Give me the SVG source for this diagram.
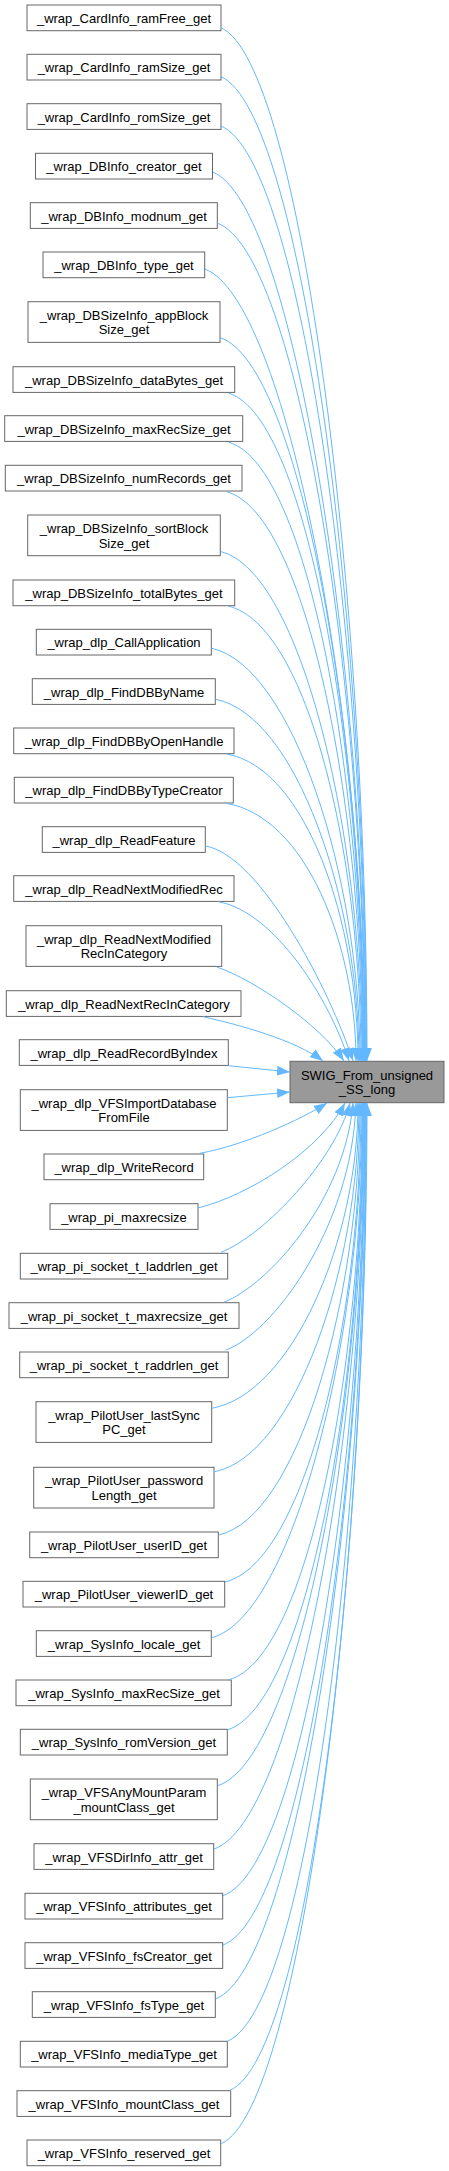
<svg xmlns="http://www.w3.org/2000/svg" width="449" height="2171" viewBox="0 0 449 2171">
<style>
.n rect{fill:#ffffff;stroke:#666666;stroke-width:1}
.t rect{fill:#999999;stroke:#666666;stroke-width:1}
text{font-family:"Liberation Sans",Arial,Helvetica,sans-serif;font-size:13px;fill:#000000;text-anchor:middle}
#edges path{fill:none;stroke:#63b8ff;stroke-width:1;marker-end:url(#ah)}
</style>
<defs>
<marker id="ah" markerUnits="userSpaceOnUse" markerWidth="13" markerHeight="10" viewBox="0 0 12 9" refX="12" refY="4.5" orient="auto">
<path d="M0,0 L12,4.5 L0,9 z" fill="#63b8ff"/>
</marker>
</defs>
<rect x="0" y="0" width="449" height="2171" fill="#ffffff"/>
<g id="nodes">
<g id="n1" class="n"><rect x="27" y="5" width="194" height="25.7"/><text x="124" y="23">_wrap_CardInfo_ramFree_get</text></g>
<g id="n2" class="n"><rect x="27" y="54.3" width="194" height="25.7"/><text x="124" y="72.3">_wrap_CardInfo_ramSize_get</text></g>
<g id="n3" class="n"><rect x="27" y="103.7" width="194" height="25.7"/><text x="124" y="121.7">_wrap_CardInfo_romSize_get</text></g>
<g id="n4" class="n"><rect x="35.5" y="153.3" width="177" height="25.7"/><text x="124" y="171.3">_wrap_DBInfo_creator_get</text></g>
<g id="n5" class="n"><rect x="30.3" y="202.7" width="187" height="25.7"/><text x="124" y="220.7">_wrap_DBInfo_modnum_get</text></g>
<g id="n6" class="n"><rect x="43" y="252" width="161.7" height="25.7"/><text x="124" y="270">_wrap_DBInfo_type_get</text></g>
<g id="n7" class="n"><rect x="28" y="301.7" width="192" height="40.7"/><text x="124" y="319.7">_wrap_DBSizeInfo_appBlock</text><text x="124" y="334.2">Size_get</text></g>
<g id="n8" class="n"><rect x="13" y="366.7" width="221.7" height="25.7"/><text x="124" y="384.7">_wrap_DBSizeInfo_dataBytes_get</text></g>
<g id="n9" class="n"><rect x="4.7" y="415.7" width="238" height="25.7"/><text x="124" y="433.7">_wrap_DBSizeInfo_maxRecSize_get</text></g>
<g id="n10" class="n"><rect x="5.3" y="465.3" width="236.7" height="25.7"/><text x="124" y="483.3">_wrap_DBSizeInfo_numRecords_get</text></g>
<g id="n11" class="n"><rect x="27.7" y="515" width="192.6" height="40.7"/><text x="124" y="533">_wrap_DBSizeInfo_sortBlock</text><text x="124" y="547.5">Size_get</text></g>
<g id="n12" class="n"><rect x="13" y="580" width="221.7" height="25.7"/><text x="124" y="598">_wrap_DBSizeInfo_totalBytes_get</text></g>
<g id="n13" class="n"><rect x="36.3" y="629.3" width="175" height="25.7"/><text x="124" y="647.3">_wrap_dlp_CallApplication</text></g>
<g id="n14" class="n"><rect x="32.3" y="678.7" width="183" height="25.7"/><text x="124" y="696.7">_wrap_dlp_FindDBByName</text></g>
<g id="n15" class="n"><rect x="13.7" y="728" width="220.3" height="25.7"/><text x="124" y="746">_wrap_dlp_FindDBByOpenHandle</text></g>
<g id="n16" class="n"><rect x="14.3" y="777.3" width="219" height="25.7"/><text x="124" y="795.3">_wrap_dlp_FindDBByTypeCreator</text></g>
<g id="n17" class="n"><rect x="42.3" y="826.7" width="163" height="25.7"/><text x="124" y="844.7">_wrap_dlp_ReadFeature</text></g>
<g id="n18" class="n"><rect x="13.7" y="875.7" width="220.3" height="25.7"/><text x="124" y="893.7">_wrap_dlp_ReadNextModifiedRec</text></g>
<g id="n19" class="n"><rect x="26" y="925.7" width="195.7" height="40.7"/><text x="124" y="943.7">_wrap_dlp_ReadNextModified</text><text x="124" y="958.2">RecInCategory</text></g>
<g id="n20" class="n"><rect x="6.3" y="990.7" width="234.7" height="25.7"/><text x="124" y="1008.7">_wrap_dlp_ReadNextRecInCategory</text></g>
<g id="n21" class="n"><rect x="19.3" y="1039.7" width="209" height="25.7"/><text x="124" y="1057.7">_wrap_dlp_ReadRecordByIndex</text></g>
<g id="n22" class="n"><rect x="20.3" y="1089.7" width="207" height="40.7"/><text x="124" y="1107.7">_wrap_dlp_VFSImportDatabase</text><text x="124" y="1122.2">FromFile</text></g>
<g id="n23" class="n"><rect x="44" y="1154" width="159.7" height="25.7"/><text x="124" y="1172">_wrap_dlp_WriteRecord</text></g>
<g id="n24" class="n"><rect x="50" y="1203.7" width="148" height="25.7"/><text x="124" y="1221.7">_wrap_pi_maxrecsize</text></g>
<g id="n25" class="n"><rect x="20.3" y="1253.3" width="207.4" height="25.7"/><text x="124" y="1271.3">_wrap_pi_socket_t_laddrlen_get</text></g>
<g id="n26" class="n"><rect x="9" y="1302.7" width="230" height="25.7"/><text x="124" y="1320.7">_wrap_pi_socket_t_maxrecsize_get</text></g>
<g id="n27" class="n"><rect x="19.7" y="1352" width="208.6" height="25.7"/><text x="124" y="1370">_wrap_pi_socket_t_raddrlen_get</text></g>
<g id="n28" class="n"><rect x="36" y="1401.7" width="175.7" height="40.7"/><text x="124" y="1419.7">_wrap_PilotUser_lastSync</text><text x="124" y="1434.2">PC_get</text></g>
<g id="n29" class="n"><rect x="33.7" y="1467.3" width="180.3" height="40.7"/><text x="124" y="1485.3">_wrap_PilotUser_password</text><text x="124" y="1499.8">Length_get</text></g>
<g id="n30" class="n"><rect x="29.7" y="1532" width="188.6" height="25.7"/><text x="124" y="1550">_wrap_PilotUser_userID_get</text></g>
<g id="n31" class="n"><rect x="23" y="1581.3" width="201.7" height="25.7"/><text x="124" y="1599.3">_wrap_PilotUser_viewerID_get</text></g>
<g id="n32" class="n"><rect x="36.3" y="1630.7" width="175" height="25.7"/><text x="124" y="1648.7">_wrap_SysInfo_locale_get</text></g>
<g id="n33" class="n"><rect x="16" y="1680" width="215.3" height="25.7"/><text x="124" y="1698">_wrap_SysInfo_maxRecSize_get</text></g>
<g id="n34" class="n"><rect x="20.3" y="1729.3" width="207" height="25.7"/><text x="124" y="1747.3">_wrap_SysInfo_romVersion_get</text></g>
<g id="n35" class="n"><rect x="30.3" y="1779" width="187" height="40.7"/><text x="124" y="1797">_wrap_VFSAnyMountParam</text><text x="124" y="1811.5">_mountClass_get</text></g>
<g id="n36" class="n"><rect x="34" y="1843.7" width="179.7" height="25.7"/><text x="124" y="1861.7">_wrap_VFSDirInfo_attr_get</text></g>
<g id="n37" class="n"><rect x="25" y="1893.3" width="197.7" height="25.7"/><text x="124" y="1911.3">_wrap_VFSInfo_attributes_get</text></g>
<g id="n38" class="n"><rect x="25" y="1942.7" width="197.7" height="25.7"/><text x="124" y="1960.7">_wrap_VFSInfo_fsCreator_get</text></g>
<g id="n39" class="n"><rect x="32.3" y="1991.7" width="183" height="25.7"/><text x="124" y="2009.7">_wrap_VFSInfo_fsType_get</text></g>
<g id="n40" class="n"><rect x="20.3" y="2041.3" width="207" height="25.7"/><text x="124" y="2059.3">_wrap_VFSInfo_mediaType_get</text></g>
<g id="n41" class="n"><rect x="17" y="2090.7" width="213.7" height="25.7"/><text x="124" y="2108.7">_wrap_VFSInfo_mountClass_get</text></g>
<g id="n42" class="n"><rect x="27" y="2140" width="193.7" height="25.7"/><text x="124" y="2158">_wrap_VFSInfo_reserved_get</text></g>
<g id="target" class="t"><rect x="290" y="1061.3" width="154" height="41.4"/><text x="367" y="1079.5">SWIG_From_unsigned</text><text x="367" y="1094">_SS_long</text></g>
</g>
<g id="edges">
<path d="M221,27.7 C301,63.7 367,596 367,1061"/>
<path d="M221,76.7 C301,111.2 366.5,618 366.5,1061"/>
<path d="M221,126 C301,159 366,640 366,1061"/>
<path d="M212.7,172 C292.7,203.7 365.5,661 365.5,1061"/>
<path d="M217.7,223.3 C297.7,253.4 365,684 365,1061"/>
<path d="M204.7,269 C284.7,297.8 364.5,704.6 364.5,1061"/>
<path d="M220.3,337.7 C300.3,364.4 364,735.5 364,1061"/>
<path d="M229,393.3 C309,418.3 363.5,760.5 363.5,1061"/>
<path d="M229,442.3 C309,465.9 363,782.6 363,1061"/>
<path d="M226.7,491.7 C306.7,513.8 362.5,804.8 362.5,1061"/>
<path d="M221,551.7 C301,572 362,831.8 362,1061"/>
<path d="M228,606 C308,624.7 361,856.3 361,1061"/>
<path d="M211.7,648.3 C291.7,665.7 360,875.3 360,1061"/>
<path d="M215.7,699.3 C295.7,715.2 359,898.2 359,1061"/>
<path d="M226.7,754 C306.7,768.2 358,922.8 358,1061"/>
<path d="M225.7,803.3 C305.7,816 356,945 356,1061"/>
<path d="M205.3,846 C260,855 330,990 353,1061"/>
<path d="M218.3,901.7 C275,912 330,1000 349,1061"/>
<path d="M216.7,967 C255,980 320,1025 344,1061"/>
<path d="M203,1016.7 C240,1025 295,1040 323,1061"/>
<path d="M228.3,1065.7 L290,1072"/>
<path d="M227.3,1097.7 L290,1092"/>
<path d="M200,1153.3 C245,1145 300,1120 327,1103"/>
<path d="M198,1208 C250,1195 320,1150 345,1103"/>
<path d="M221,1252.3 C265,1235 335,1160 350,1103"/>
<path d="M223.7,1302.3 C268,1285 345,1200 353,1103"/>
<path d="M225.7,1350 C270,1335 352,1230 356,1103"/>
<path d="M211.7,1408.3 C291.7,1394.1 358,1240.4 358,1103"/>
<path d="M214.7,1471.7 C294.7,1455.6 359,1268.9 359,1103"/>
<path d="M218.7,1535 C298.7,1517 360,1297.4 360,1103"/>
<path d="M225,1582 C305,1562.6 361,1318.6 361,1103"/>
<path d="M211.7,1637.7 C291.7,1616.7 362,1343.6 362,1103"/>
<path d="M229,1679.7 C309,1657.4 362.5,1362.5 362.5,1103"/>
<path d="M227,1730 C307,1706.2 363,1385.2 363,1103"/>
<path d="M217.7,1785.7 C297.7,1760.2 363.5,1410.2 363.5,1103"/>
<path d="M214,1849 C294,1821.6 364,1438.7 364,1103"/>
<path d="M223,1895.7 C303,1866.9 364.5,1459.7 364.5,1103"/>
<path d="M223,1945 C303,1914.7 365,1481.9 365,1103"/>
<path d="M216,1998.7 C296,1966.8 365.5,1506 365.5,1103"/>
<path d="M227.3,2041.3 C307.3,2008.2 366,1525.2 366,1103"/>
<path d="M230,2090.3 C310,2055.7 366.5,1547.3 366.5,1103"/>
<path d="M221.3,2143.7 C301.3,2107.5 367,1571.3 367,1103"/>
</g>
</svg>
